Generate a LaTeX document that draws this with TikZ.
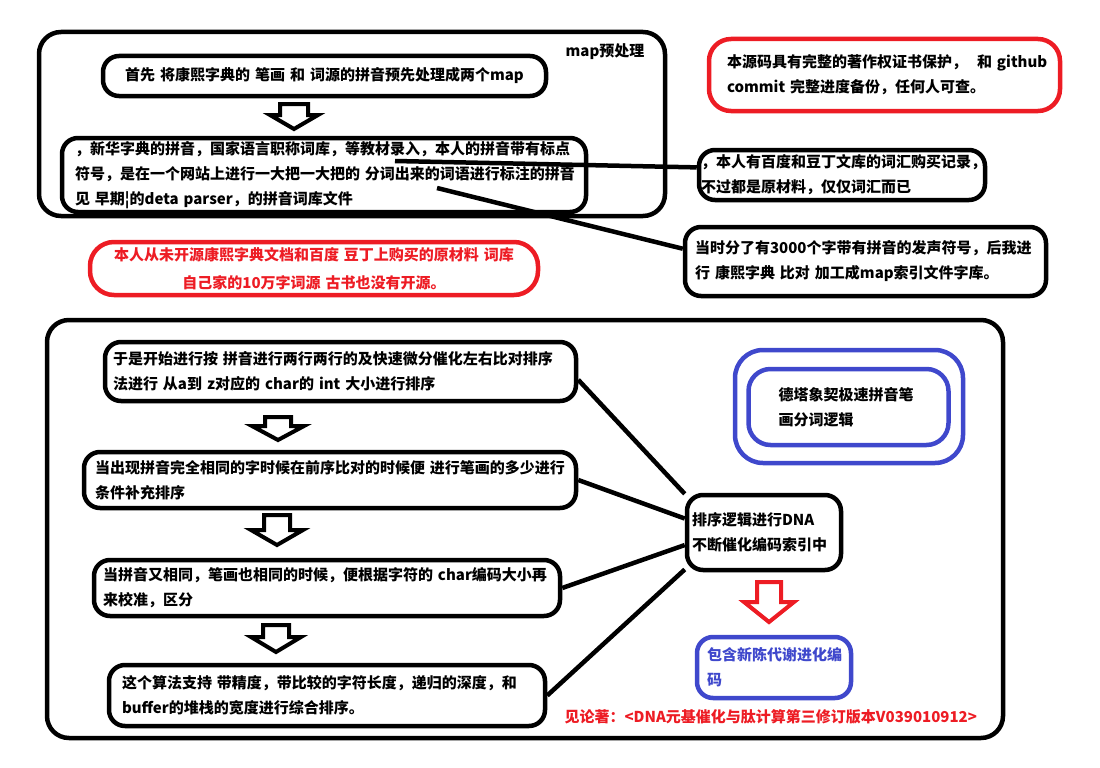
\documentclass[tikz,border=0pt]{standalone}
\usepackage{fontspec}
\setmainfont{Noto Sans CJK SC}
\usetikzlibrary{calc}
\definecolor{paintred}{HTML}{ED1C24}
\definecolor{paintblue}{HTML}{3F48CC}

\begin{document}
\begin{tikzpicture}[x=1pt, y=-1pt,
  box/.style={draw, line width=4.5pt, rounded corners=16pt, inner ysep=0pt, align=left, font=\fontsize{15}{25}\selectfont\bfseries},
  link/.style={line width=4.5pt},
  frame/.style={line width=4.5pt, rounded corners=22pt},
  hollow/.style={draw, line width=4pt, fill=white, line join=miter},
  label/.style={font=\fontsize{15}{25}\selectfont\bfseries},
]
\useasboundingbox (0,0) rectangle (1100,768);

% Frames
\draw[frame] (39,32) rectangle (665,216);
\draw[frame] (47,320) rectangle (1003,738);
\node[label] (maplbl) at (605,52) {map预处理};

% Top part
\node[box, align=center, minimum width=443pt, minimum height=40pt, text width=430pt] (prep) at (324.5,76)
  {首先~将康熙字典的~笔画~和~词源的拼音预先处理成两个map};
\node[box, minimum width=524pt, minimum height=74pt, inner xsep=13pt, text width=498pt] (src) at (324,175)
  {，新华字典的拼音，国家语言职称词库，等教材录入，本人的拼音带有标点\\符号，是在一个网站上进行一大把一大把的~分词出来的词语进行标注的拼音\\见~早期¦的deta~parser，的拼音词库文件};
\node[box, draw=paintred, rounded corners=22pt, minimum width=351pt, minimum height=72pt, inner xsep=18pt, text width=315pt] (copyright) at (884.5,75)
  {本源码具有完整的著作权证书保护，~~和~github\\commit~完整进度备份，任何人可查。};
\node[box, minimum width=286pt, minimum height=50pt, inner xsep=2pt, text width=282pt] (buy) at (842,175)
  {，本人有百度和豆丁文库的词汇购买记录，\\不过都是原材料，仅仅词汇而已};
\node[box, minimum width=361pt, minimum height=69pt, inner xsep=10pt, text width=341pt] (dict) at (865.5,261.5)
  {当时分了有3000个字带有拼音的发声符号，后我进\\行~康熙字典~比对~加工成map索引文件字库。};
\node[box, draw=paintred, text=paintred, align=center, rounded corners=24pt, minimum width=448pt, minimum height=53pt, text width=440pt,
  font=\fontsize{15}{28}\selectfont\bfseries] (notopen) at (314,268.5)
  {本人从未开源康熙字典文档和百度~豆丁上购买的原材料~词库\\自己家的10万字词源~古书也没有开源。};

\coordinate (tap1) at (395,161);
\coordinate (tap2) at (437,188);
\draw[link] (tap1) -- (buy.177);
\draw[link] (tap2) -- (dict.176);

% Sorting steps
\foreach \n/\cx/\cy/\w/\h/\xs/\txt in {
  s1/340.5/371.5/471/59/8/{于是开始进行按~拼音进行两行两行的及快速微分催化左右比对排序\\法进行~从a到~z对应的~char的~int~大小进行排序},
  s2/330/480/492/56/11/{当出现拼音完全相同的字时候在前序比对的时候便~进行笔画的多少进行\\条件补充排序},
  s3/327/588/466/56/9/{当拼音又相同，笔画也相同的时候，便根据字符的~char编码大小再\\来校准，区分},
  s4/327/695.5/436/61/13/{这个算法支持~带精度，带比较的字符长度，递归的深度，和\\buffer的堆栈的宽度进行综合排序。}} {
  \pgfmathsetmacro{\tw}{\w-2*\xs}
  \node[box, minimum width=\w pt, minimum height=\h pt, inner xsep=\xs pt, text width=\tw pt] (\n) at (\cx,\cy) {\txt};
}

% Hollow arrows
\foreach \ax/\ay/\sw/\hw/\hy/\ty in {294/104/14/24/115/129, 278/417/13/26/426/440, 277/515/13/26/530/545, 276/625/13/25/637/652} {
  \draw[hollow] (\ax-\sw,\ay) -- (\ax+\sw,\ay) -- (\ax+\sw,\hy) -- (\ax+\hw,\hy) -- (\ax,\ty) -- (\ax-\hw,\hy) -- (\ax-\sw,\hy) -- cycle;
}

% Right side
\node[box, draw=paintblue, rounded corners=22pt, minimum width=193pt, minimum height=76pt, inner xsep=30pt, text width=140pt] (logic) at (848.5,407)
  {德塔象契极速拼音笔\\画分词逻辑};
\draw[frame, draw=paintblue, rounded corners=28pt] (735,350) rectangle (963,463);
\node[box, minimum width=154pt, minimum height=75pt, inner xsep=5pt, text width=144pt] (dna) at (764,532.5)
  {排序逻辑进行DNA\\不断催化编码索引中};
\draw[hollow, draw=paintred] (757,582) -- (781,582) -- (781,602) -- (794,602) -- (769,622) -- (744,602) -- (757,602) -- cycle;
\node[box, draw=paintblue, text=paintblue, minimum width=154pt, minimum height=61pt, inner xsep=10pt, text width=134pt] (evo) at (774,667.5)
  {包含新陈代谢进化编\\码};

\draw[link] (s1.-2) -- (dna.154);
\draw[link] (s2.east) -- (dna.170);
\draw[link] (s3.east) -- (dna.189);
\draw[link] (s4.east) -- (dna.205);

\node[label, text=paintred, anchor=west] (cite) at (561,717) {见论著：<DNA元基催化与肽计算第三修订版本V039010912>};

\end{tikzpicture}
\end{document}
